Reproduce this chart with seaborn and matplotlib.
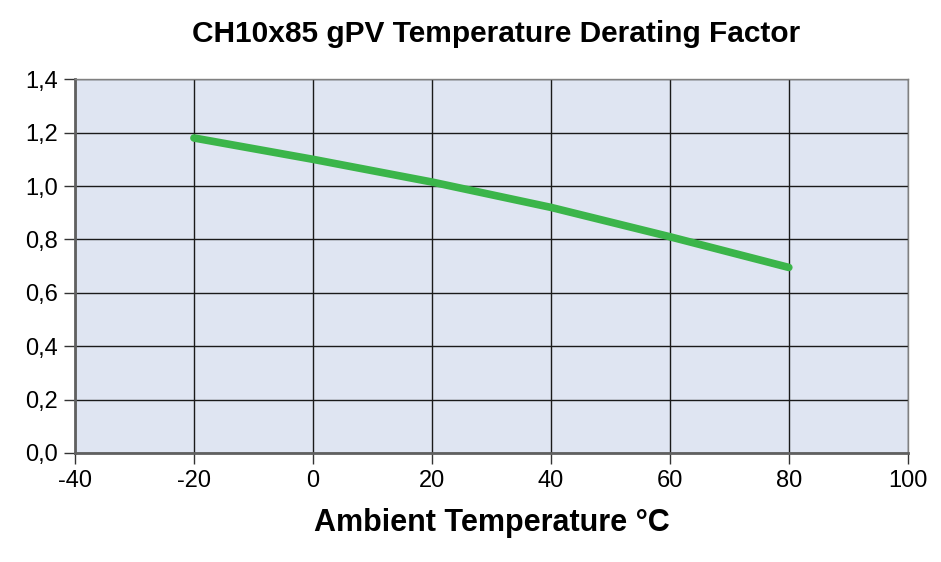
import pandas as pd
import matplotlib.pyplot as plt
import seaborn as sns

# Derating factor
temperature = [-20, 0, 20, 40, 60, 80]
derating = [1.18, 1.10, 1.015, 0.92, 0.81, 0.695]

df = pd.DataFrame({'temp': temperature, 'factor': derating})

sns.set_style('white')
plt.rcParams['font.family'] = ['Liberation Sans', 'DejaVu Sans']
plt.rcParams['axes.unicode_minus'] = False
plt.rcParams['text.color'] = 'black'
plt.rcParams['axes.labelcolor'] = 'black'
plt.rcParams['xtick.color'] = 'black'
plt.rcParams['ytick.color'] = 'black'

fig = plt.figure(figsize=(9.41, 5.62), dpi=100)
ax = fig.add_axes([0.0797, 0.194, 0.885, 0.665])
ax.set_facecolor('#DFE5F2')

sns.lineplot(x='temp', y='factor', data=df, ax=ax, color='#3BB54A',
             linewidth=5.5, solid_capstyle='round')

ax.set_xlim(-40, 100)
ax.set_ylim(0, 1.4)
ax.set_xticks(range(-40, 101, 20))
ax.set_yticks([i * 0.2 for i in range(8)])
ax.set_yticklabels([f'{i * 0.2:.1f}'.replace('.', ',') for i in range(8)])
ax.grid(True, color='#1a1a1a', linewidth=1)
ax.set_axisbelow(True)

for side in ['top', 'right']:
    ax.spines[side].set_color('#808080')
    ax.spines[side].set_linewidth(1)
for side in ['left', 'bottom']:
    ax.spines[side].set_color('#606060')
    ax.spines[side].set_linewidth(2)

ax.tick_params(axis='both', direction='out', length=8, width=1, color='#333333',
               labelsize=17, pad=4, left=True, bottom=True)

ax.set_xlabel('Ambient Temperature °C', fontsize=22, fontweight='bold', labelpad=12)
ax.set_ylabel('')
fig.suptitle('CH10x85 gPV Temperature Derating Factor', fontsize=21.5,
             fontweight='bold', x=0.527, y=0.965)

plt.savefig('out.png', dpi=100)
